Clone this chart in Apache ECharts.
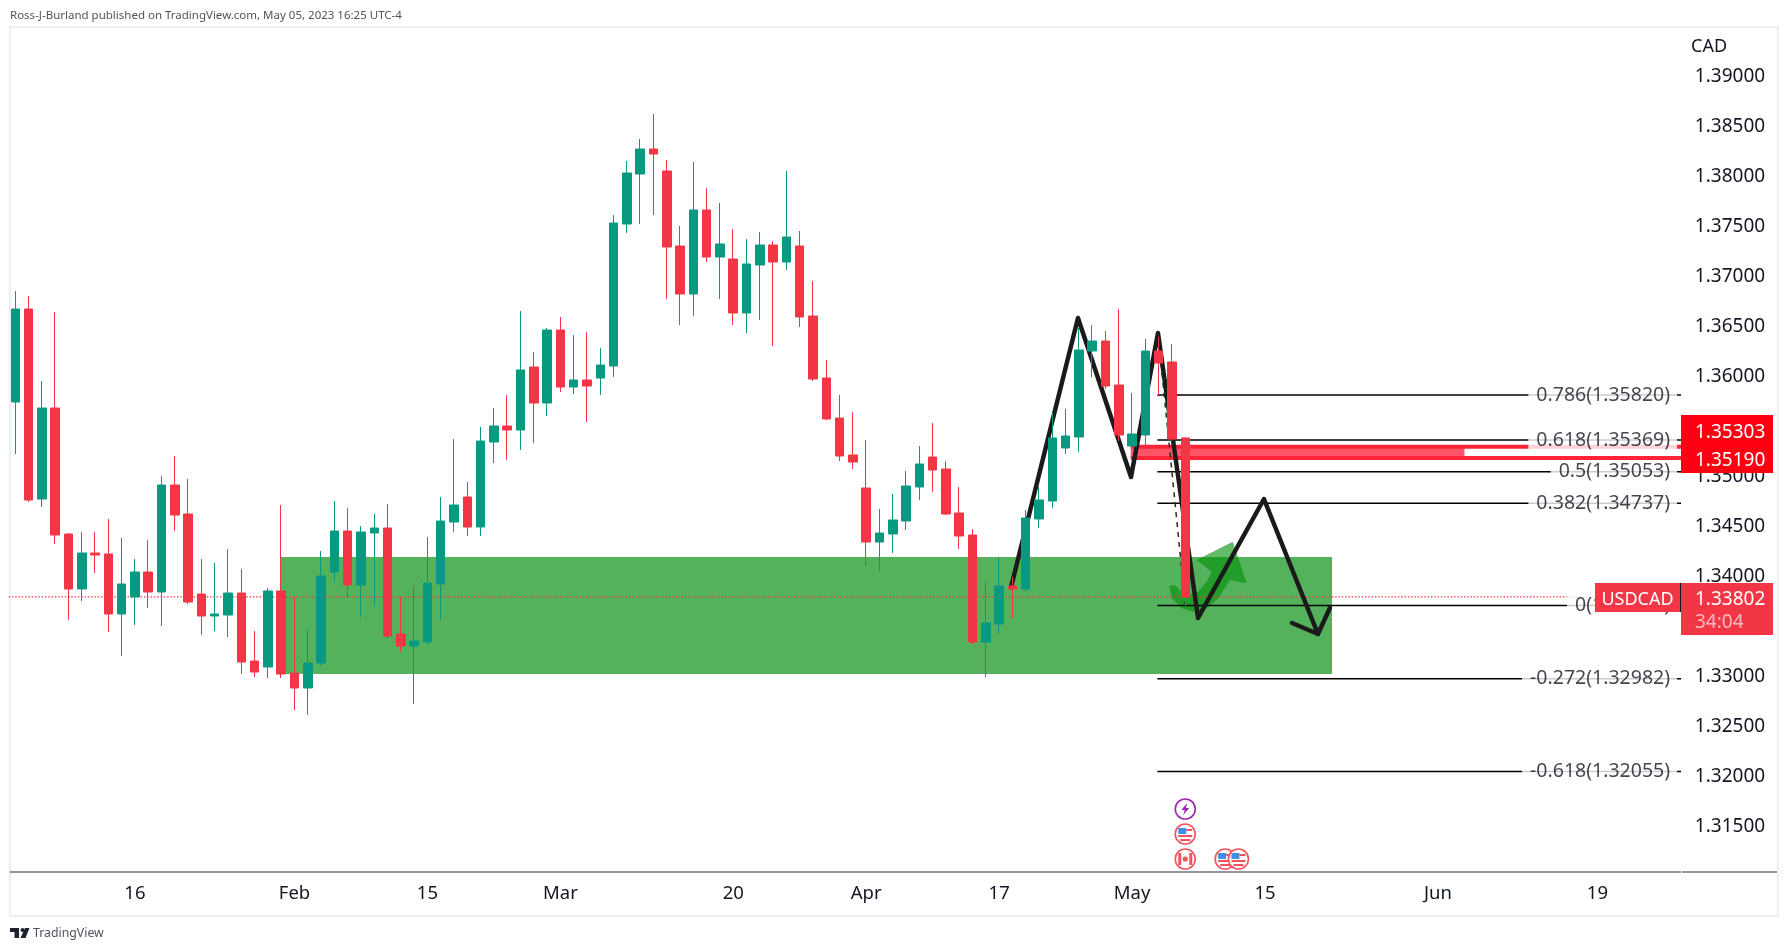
<!DOCTYPE html>
<html><head><meta charset="utf-8">
<style>html,body{margin:0;padding:0;background:#fff}#c{width:1787px;height:951px}</style>
<script src="https://cdn.jsdelivr.net/npm/echarts@6/dist/echarts.min.js"></script>
</head><body><div id="c"></div>
<script>
const FONT='"Noto Sans",sans-serif';
const categories=["Jan 3","Jan 4","Jan 5","Jan 6","Jan 9","Jan 10","Jan 11","Jan 12","Jan 13","Jan 16","Jan 17","Jan 18","Jan 19","Jan 20","Jan 23","Jan 24","Jan 25","Jan 26","Jan 27","Jan 30","Jan 31","Feb 1","Feb 2","Feb 3","Feb 6","Feb 7","Feb 8","Feb 9","Feb 10","Feb 13","Feb 14","Feb 15","Feb 16","Feb 17","Feb 20","Feb 21","Feb 22","Feb 23","Feb 24","Feb 27","Feb 28","Mar 1","Mar 2","Mar 3","Mar 6","Mar 7","Mar 8","Mar 9","Mar 10","Mar 13","Mar 14","Mar 15","Mar 16","Mar 17","Mar 20","Mar 21","Mar 22","Mar 23","Mar 24","Mar 27","Mar 28","Mar 29","Mar 30","Mar 31","Apr 3","Apr 4","Apr 5","Apr 6","Apr 7","Apr 10","Apr 11","Apr 12","Apr 13","Apr 14","Apr 17","Apr 18","Apr 19","Apr 20","Apr 21","Apr 24","Apr 25","Apr 26","Apr 27","Apr 28","May 1","May 2","May 3","May 4","May 5","May 8","May 9","May 10","May 11","May 12","May 15","May 16","May 17","May 18","May 19","May 22","May 23","May 24","May 25","May 26","May 29","May 30","May 31","Jun 1","Jun 2","Jun 5","Jun 6","Jun 7","Jun 8","Jun 9","Jun 12","Jun 13","Jun 14","Jun 15","Jun 16","Jun 19","Jun 20","Jun 21","Jun 22","Jun 23","Jun 26","Jun 27"];
const open=[1.3575,1.3668,1.3478,1.3569,1.3443,1.3388,1.3424,1.3423,1.3363,1.3380,1.3405,1.3385,1.3492,1.3463,1.3383,1.3361,1.3362,1.3384,1.3316,1.3310,1.3386,1.3304,1.3289,1.3314,1.3405,1.3446,1.3392,1.3444,1.3449,1.3343,1.3331,1.3335,1.3393,1.3455,1.3480,1.3450,1.3535,1.3551,1.3547,1.3610,1.3574,1.3647,1.3590,1.3597,1.3599,1.3611,1.3753,1.3803,1.3828,1.3806,1.3731,1.3683,1.3767,1.3720,1.3718,1.3664,1.3712,1.3732,1.3715,1.3731,1.3661,1.3599,1.3559,1.3522,1.3489,1.3435,1.3443,1.3456,1.3490,1.3520,1.3508,1.3464,1.3442,1.3335,1.3353,1.3391,1.3388,1.3458,1.3476,1.3529,1.3540,1.3626,1.3636,1.3592,1.3531,1.3542,1.3626,1.3615,1.3539];
const close=[1.3668,1.3477,1.3569,1.3442,1.3388,1.3424,1.3422,1.3363,1.3393,1.3405,1.3385,1.3492,1.3462,1.3375,1.3361,1.3363,1.3384,1.3315,1.3305,1.3386,1.3303,1.3289,1.3314,1.3401,1.3446,1.3392,1.3445,1.3449,1.3341,1.3331,1.3336,1.3394,1.3456,1.3472,1.3450,1.3536,1.3551,1.3547,1.3607,1.3574,1.3647,1.3590,1.3597,1.3591,1.3612,1.3754,1.3804,1.3828,1.3823,1.3730,1.3683,1.3767,1.3720,1.3733,1.3664,1.3713,1.3732,1.3715,1.3740,1.3660,1.3598,1.3558,1.3521,1.3515,1.3435,1.3444,1.3457,1.3491,1.3513,1.3507,1.3463,1.3441,1.3335,1.3354,1.3391,1.3388,1.3459,1.3477,1.3539,1.3541,1.3627,1.3636,1.3591,1.3542,1.3543,1.3626,1.3614,1.3538,1.3380];
const low=[1.3523,1.3475,1.3470,1.3433,1.3357,1.3376,1.3404,1.3345,1.3321,1.3352,1.3369,1.3351,1.3446,1.3373,1.3342,1.3346,1.3340,1.3303,1.3300,1.3299,1.3299,1.3267,1.3262,1.3311,1.3396,1.3380,1.3360,1.3372,1.3338,1.3325,1.3273,1.3332,1.3357,1.3445,1.3441,1.3441,1.3514,1.3517,1.3527,1.3534,1.3561,1.3585,1.3583,1.3555,1.3582,1.3600,1.3744,1.3753,1.3762,1.3678,1.3652,1.3661,1.3715,1.3678,1.3652,1.3644,1.3657,1.3631,1.3707,1.3650,1.3596,1.3557,1.3516,1.3508,1.3411,1.3406,1.3424,1.3447,1.3477,1.3485,1.3462,1.3428,1.3333,1.3300,1.3343,1.3359,1.3385,1.3449,1.3469,1.3523,1.3525,1.3600,1.3588,1.3536,1.3530,1.3528,1.3582,1.3536,1.3371];
const high=[1.3686,1.3681,1.3596,1.3665,1.3444,1.3445,1.3445,1.3458,1.3439,1.3418,1.3437,1.3501,1.3521,1.3498,1.3418,1.3414,1.3428,1.3408,1.3346,1.3389,1.3472,1.3380,1.3348,1.3426,1.3476,1.3469,1.3451,1.3463,1.3473,1.3380,1.3391,1.3440,1.3480,1.3538,1.3495,1.3550,1.3569,1.3582,1.3666,1.3625,1.3649,1.3660,1.3642,1.3645,1.3629,1.3762,1.3816,1.3838,1.3863,1.3817,1.3751,1.3815,1.3789,1.3774,1.3748,1.3738,1.3745,1.3736,1.3806,1.3746,1.3696,1.3617,1.3582,1.3565,1.3537,1.3468,1.3483,1.3506,1.3531,1.3554,1.3516,1.3490,1.3448,1.3396,1.3420,1.3400,1.3467,1.3490,1.3564,1.3568,1.3649,1.3652,1.3646,1.3668,1.3584,1.3638,1.3640,1.3633,1.3540];
const tickIndex=[9,21,31,41,54,64,74,84,94,107,119];
const tickLabels=["16","Feb","15","Mar","20","Apr","17","May","15","Jun","19"];
const priceTicks=[1.315,1.32,1.325,1.33,1.335,1.34,1.345,1.35,1.355,1.36,1.365,1.37,1.375,1.38,1.385,1.39];
const fibRatios=["0.786","0.618","0.5","0.382","0","-0.272","-0.618"];
const fibPrices=[1.35820,1.35369,1.35053,1.34737,1.33714,1.32982,1.32055];
const fibStart=85.9, fibEnd=125.29, fibLabelAt=124.99;
const zoneRow=[19.97,99.04,1.342,1.3303];
const bandRow=[83.9,109,1.35303,1.3519];
const bandLines=[1.35303,1.3519];
const lastPrice=1.33802;
const zigX=[74.9,79.93,83.92,85.95,88.96,93.92,97.98,98.88];
const zigP=[1.3390,1.3659,1.3500,1.3644,1.3359,1.3478,1.3343,1.3369];
const headX=[96.03,97.98];
const headP=[1.3354,1.3343];
const dashX=[85.95,88.0];
const dashP=[1.3644,1.3372];
const arrowX=[86.8,86.98,87.73,88.6,89.61,90.49,91.36,92.62,91.57,88.86,89.99,89.61,88.98,88.36,87.73,87.23];
const arrowP=[1.3391,1.33787,1.33687,1.33653,1.33687,1.33787,1.3397,1.33937,1.34353,1.3417,1.34053,1.33953,1.33853,1.3383,1.33853,1.3392];
const iconX=[88,88,88,91,92];
const iconP=[1.3168,1.3143,1.3118,1.3118,1.3118];
const iconKinds=["bolt","us","ca","us","us"];
const candles=open.map((o,i)=>[o,close[i],low[i],high[i]]);
const pts=(xs,ps)=>xs.map((x,i)=>[x,ps[i]]);
const lineSeries=(data,color,width,z,extra)=>Object.assign({type:'line',xAxisIndex:1,yAxisIndex:0,data,showSymbol:false,symbol:'none',silent:true,animation:false,z,lineStyle:{color,width,cap:'round',join:'round'}},extra||{});
const rectItem=(api,fill)=>{const a=api.coord([api.value(0),api.value(2)]),b=api.coord([api.value(1),api.value(3)]);return{type:'rect',shape:{x:a[0],y:a[1],width:b[0]-a[0],height:b[1]-a[1]},style:{fill}}};
function icon(p,api){
  const c=api.coord([api.value(0),api.value(1)]);const kind=iconKinds[p.dataIndex];const R='#f2545f';
  const kids=[{type:'circle',shape:{cx:0,cy:0,r:10},style:{fill:'#fff',stroke:kind==='bolt'?'#9c27b0':'#f7525f',lineWidth:1.6}}];
  const r=(x,y,w,h,f)=>kids.push({type:'rect',shape:{x,y,width:w,height:h},style:{fill:f}});
  if(kind==='us'){r(1,-5,6,2,R);r(-7,1,14,2,R);r(-5,5,10,2,R);r(-7,-6,8,6,'#3d8fe8');}
  if(kind==='ca'){r(-7,-6,3,12,R);r(4,-6,3,12,R);kids.push({type:'circle',shape:{cx:0,cy:0,r:2.6},style:{fill:R}});}
  if(kind==='bolt'){kids.push({type:'polygon',shape:{points:[[2,-6],[-4,1],[-0.5,1],[-2,6],[4,-1],[0.5,-1]]},style:{fill:'#9c27b0'}});}
  return{type:'group',x:c[0],y:c[1],children:kids};
}
const series=[
 {type:'custom',xAxisIndex:1,yAxisIndex:0,z:1,silent:true,animation:false,data:[zoneRow],encode:{x:[0,1],y:[2,3]},renderItem:(p,api)=>rectItem(api,'#55b25c')},
 {type:'custom',xAxisIndex:1,yAxisIndex:0,z:2,silent:true,animation:false,data:pts(arrowX,arrowP),encode:{x:0,y:1},renderItem:(p,api)=>p.dataIndex?null:{type:'polygon',shape:{points:arrowX.map((x,i)=>api.coord([x,arrowP[i]]))},style:{fill:'rgba(2,143,9,0.606)'}}},
 {type:'custom',xAxisIndex:1,yAxisIndex:0,z:2,silent:true,animation:false,data:[bandRow],encode:{x:[0,1],y:[2,3]},renderItem:(p,api)=>rectItem(api,'#ff5566')},
 ...bandLines.map(v=>lineSeries([[bandRow[0],v],[fibEnd,v]],'#ff2537',4,2,{lineStyle:{color:'#ff2537',width:4,cap:'butt'}})),
 lineSeries([[-0.5,lastPrice],[125.5,lastPrice]],'#f23645',1,3,{lineStyle:{color:'#f23645',width:1.2,type:[1.5,1.8]}}),
 ...fibPrices.map(v=>lineSeries([[fibStart,v],[fibEnd,v]],'#000',1.5,3,{lineStyle:{color:'#000',width:1.5,cap:'butt'}})),
 lineSeries(pts(dashX,dashP),'#2a2a2a',1.5,3,{lineStyle:{color:'#2a2a2a',width:1.5,type:[5,5]}}),
 lineSeries(pts(zigX,zigP),'#1a1a1a',4.5,4),
 lineSeries(pts(headX,headP),'#1a1a1a',4.5,4),
 {type:'candlestick',xAxisIndex:0,yAxisIndex:0,z:5,data:candles,barWidth:9,animation:false,silent:true,clip:false,
  itemStyle:{color:'#089981',color0:'#f23645',borderColor:'#089981',borderColor0:'#f23645',borderWidth:1}},
 {type:'scatter',xAxisIndex:1,yAxisIndex:0,z:6,silent:true,animation:false,symbolSize:0,data:fibPrices.map((v,i)=>({value:[fibLabelAt,v],label:{formatter:fibRatios[i]+'('+v.toFixed(5)+')'}})),
  label:{show:true,position:'left',distance:0,color:'#131722',fontFamily:FONT,fontSize:19.5,backgroundColor:'#fff',padding:[3,7,0,8]}},
 {type:'custom',xAxisIndex:1,yAxisIndex:0,z:6,silent:true,animation:false,data:pts(iconX,iconP),encode:{x:0,y:1},renderItem:icon}
];
const tagText=(x,y,t,size,fill,align)=>({type:'text',z:100,x,y,style:{text:t,fontFamily:FONT,fontSize:size,fill,align:align||'left',verticalAlign:'middle'}});
const gRect=(x,y,w,h,fill)=>({type:'rect',z:99,shape:{x,y,width:w,height:h},style:{fill}});
const graphic=[
 {type:'rect',z:0,shape:{x:10,y:27,width:1768,height:889},style:{fill:'none',stroke:'#eeeff5',lineWidth:2}},
 {type:'line',z:1,shape:{x1:10,y1:872,x2:1681,y2:872},style:{stroke:'#2a2e39',lineWidth:1.2}},
 {type:'line',z:1,shape:{x1:1682,y1:872,x2:1777,y2:872},style:{stroke:'#2a2e39',lineWidth:1.2}},
 tagText(10,15.5,'Ross-J-Burland published on TradingView.com, May 05, 2023 16:25 UTC-4',11.5,'#50535e'),
 tagText(1691,47,'CAD',18,'#131722'),
 gRect(1681,415,92,58,'#ff0013'),
 tagText(1695,432.5,'1.35303',19,'#fff'),
 tagText(1695,461,'1.35190',19,'#fff'),
 gRect(1595,583,85,29,'#f23645'),
 gRect(1680,583,1.2,29,'#131722'),
 gRect(1681,583,92,52,'#f23645'),
 tagText(1637.5,600,'USDCAD',18,'#fff','center'),
 tagText(1695,600,'1.33802',19,'#fff'),
 tagText(1695,623,'34:04',19,'rgba(255,255,255,0.65)'),
 gRect(10,928,9,4,'#1e222d'),gRect(14.5,928,4.5,10,'#1e222d'),
 {type:'circle',z:99,shape:{cx:22.5,cy:930,r:2},style:{fill:'#1e222d'}},
 {type:'polygon',z:99,shape:{points:[[29.5,928],[25.5,938],[20.5,938],[25,928]]},style:{fill:'#1e222d'}},
 tagText(33,933,'TradingView',12.3,'#50535e')
];
const chart=echarts.init(document.getElementById('c'),null,{renderer:'canvas'});
chart.setOption({
 animation:false,backgroundColor:'#fff',
 grid:{left:8.65,top:27,width:1675.17,height:845,containLabel:false},
 xAxis:[
  {type:'category',data:categories,boundaryGap:true,axisTick:{show:false},splitLine:{show:false},
   axisLine:{show:false},
   axisLabel:{interval:(i)=>tickIndex.includes(i),formatter:(v,i)=>tickLabels[tickIndex.indexOf(i)]||'',color:'#131722',fontFamily:FONT,fontSize:18.5,margin:12,hideOverlap:false}},
  {type:'value',show:false,min:-0.5,max:125.5,splitLine:{show:false}}
 ],
 yAxis:[{type:'value',position:'right',min:1.3105,max:1.395,scale:true,splitLine:{show:false},axisLine:{show:false},axisTick:{show:false},
   axisLabel:{customValues:priceTicks,formatter:v=>v.toFixed(5),color:'#131722',fontFamily:FONT,fontSize:19,margin:11,padding:[4,0,0,0]}}],
 tooltip:{show:false},
 series,graphic
});
</script></body></html>
